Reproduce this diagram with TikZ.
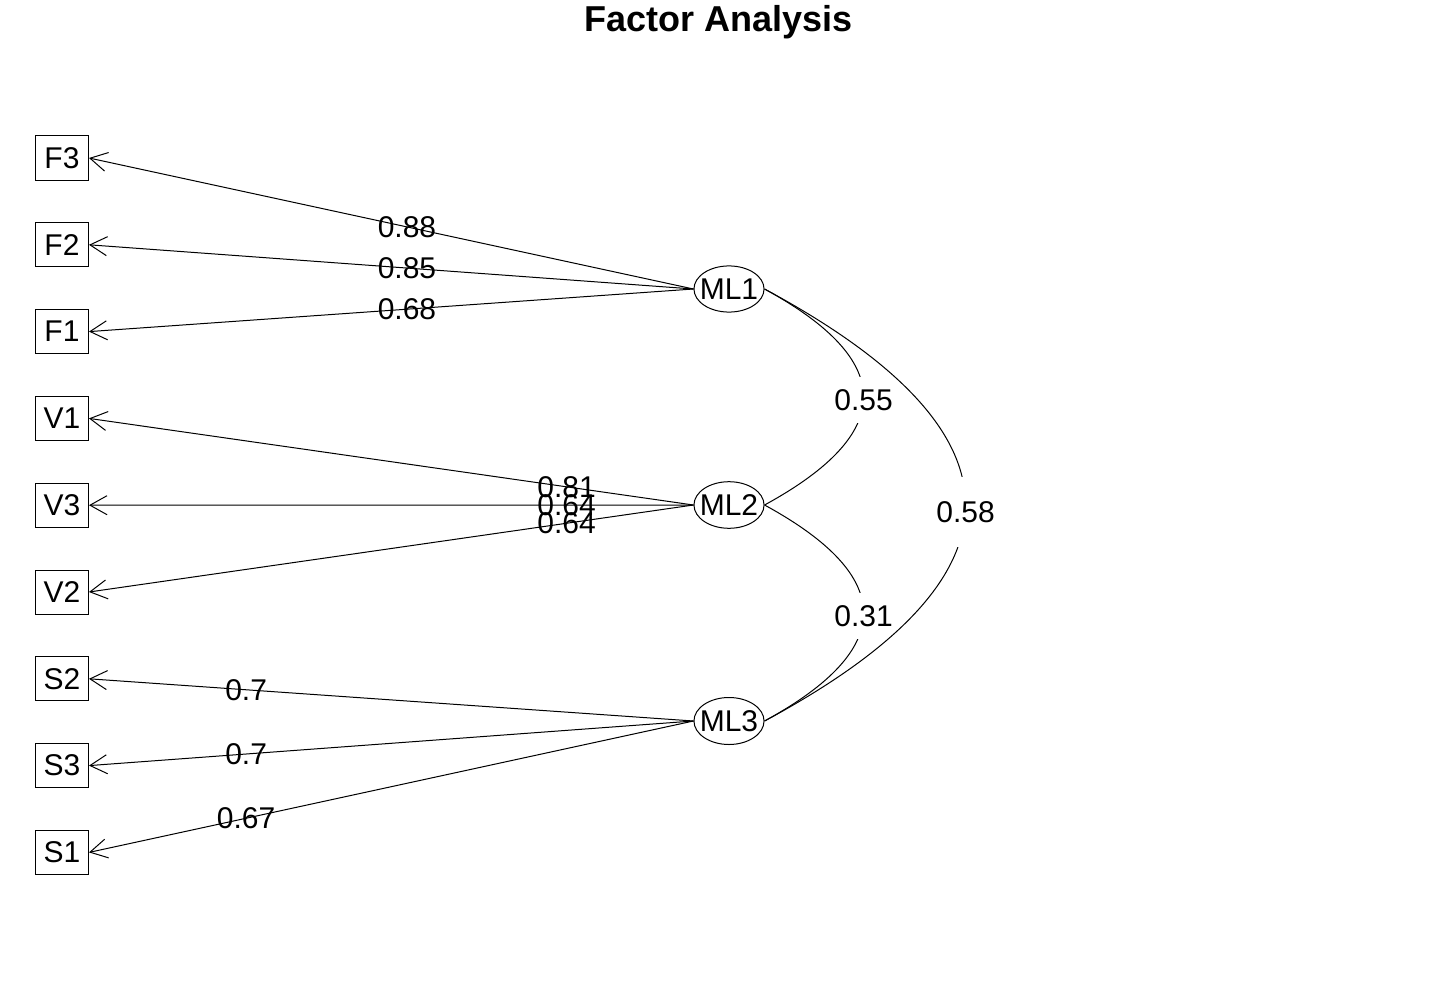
\documentclass[tikz,border=0pt]{standalone}
\usepackage{fontspec}
\setmainfont{Liberation Sans}
\usetikzlibrary{arrows.meta,positioning,shapes.geometric}
\tikzset{
  fabox/.style={draw, line width=0.5pt, minimum width=26.5pt, minimum height=22pt, inner sep=0pt, font=\fontsize{15}{17}\selectfont},
  falatent/.style={draw, ellipse, line width=0.5pt, inner xsep=-2.2pt, inner ysep=3pt, font=\fontsize{15}{17}\selectfont},
  faarrow/.style={-{Straight Barb[length=8.5pt, width=9.5pt]}, line width=0.5pt},
  faload/.style={font=\fontsize{15}{17}\selectfont, inner sep=1pt},
  facor/.style={line width=0.5pt},
  facorlabel/.style={font=\fontsize{15}{17}\selectfont, fill=white, inner xsep=2pt, inner ysep=6pt, yshift=-1.5pt}
}
\begin{document}
\begin{tikzpicture}[x=0.5pt, y=-0.5pt, node distance=20.9pt]
\useasboundingbox (0,0) rectangle (1440,990);
\node[font=\fontsize{18}{20}\selectfont\bfseries] (title) at (719,22) {Factor Analysis};
% observed variables
\node[fabox] (F3) at (62,158) {F3};
\node[fabox, below=of F3] (F2) {F2};
\node[fabox, below=of F2] (F1) {F1};
\node[fabox, below=of F1] (V1) {V1};
\node[fabox, below=of V1] (V3) {V3};
\node[fabox, below=of V3] (V2) {V2};
\node[fabox, below=of V2] (S2) {S2};
\node[fabox, below=of S2] (S3) {S3};
\node[fabox, below=of S3] (S1) {S1};
% factors
\node[falatent] (ML1) at (729,289) {ML1};
\node[falatent] (ML2) at (729,505) {ML2};
\node[falatent] (ML3) at (729,721) {ML3};
% loadings
\draw[faarrow] (ML1.west) -- node[faload, pos=0.474] {0.88} (F3.east);
\draw[faarrow] (ML1.west) -- node[faload, pos=0.474] {0.85} (F2.east);
\draw[faarrow] (ML1.west) -- node[faload, pos=0.474] {0.68} (F1.east);
\draw[faarrow] (ML2.west) -- node[faload, pos=0.21] {0.81} (V1.east);
\draw[faarrow] (ML2.west) -- node[faload, pos=0.21] {0.64} (V3.east);
\draw[faarrow] (ML2.west) -- node[faload, pos=0.21] {0.64} (V2.east);
\draw[faarrow] (ML3.west) -- node[faload, pos=0.74] {0.7} (S2.east);
\draw[faarrow] (ML3.west) -- node[faload, pos=0.74] {0.7} (S3.east);
\draw[faarrow] (ML3.west) -- node[faload, pos=0.74] {0.67} (S1.east);
% factor correlations
\draw[facor] (ML1.east) .. controls +(132,72) and +(132,-72) .. node[facorlabel] {0.55} (ML2.east);
\draw[facor] (ML2.east) .. controls +(132,72) and +(132,-72) .. node[facorlabel] {0.31} (ML3.east);
\draw[facor] (ML1.east) .. controls +(268,144) and +(268,-144) .. node[facorlabel, inner ysep=12pt, yshift=-2pt] {0.58} (ML3.east);
\end{tikzpicture}
\end{document}
